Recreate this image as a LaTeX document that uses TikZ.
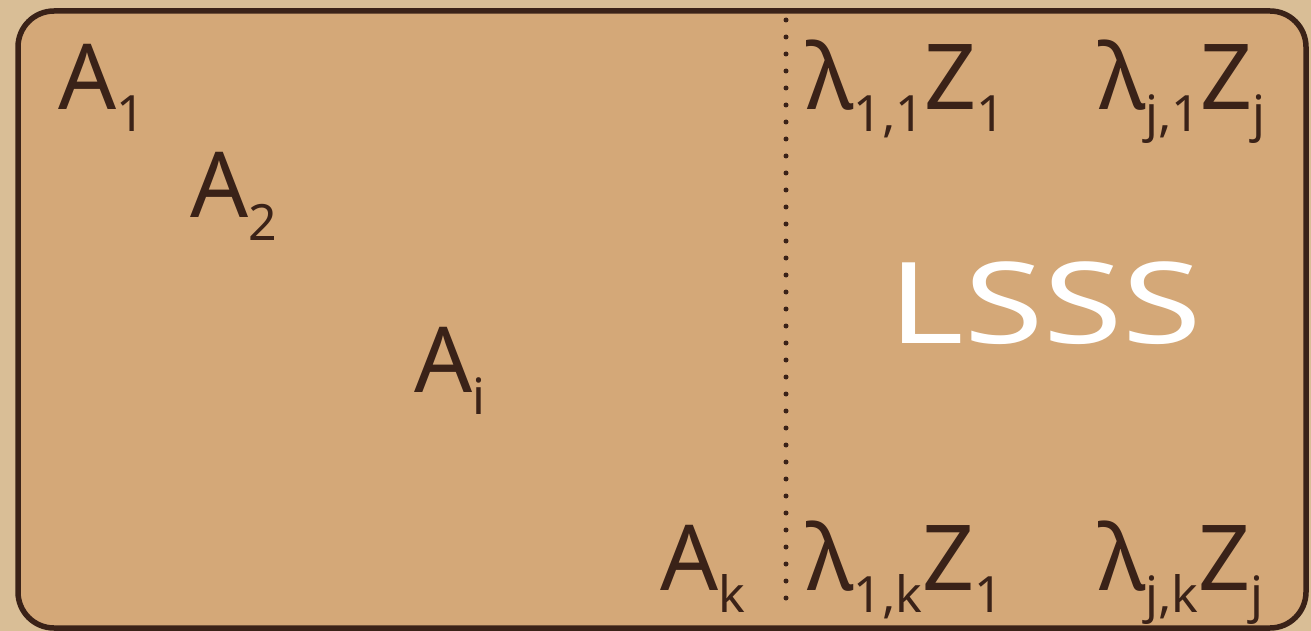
\documentclass[tikz,border=0pt]{standalone}
\usepackage{fontspec}
\setmainfont{Noto Sans}
\definecolor{paper}{HTML}{D9BE96}
\definecolor{card}{HTML}{D4A878}
\definecolor{ink}{HTML}{3A2218}
\newcommand\lowsub[1]{\raisebox{-22pt}{\fontsize{50}{50}\selectfont #1}}
\tikzset{
  lbl/.style={anchor=base west, inner sep=0pt, text=ink, font=\fontsize{91}{100}\selectfont},
  big/.style={anchor=base west, inner sep=0pt, text=white, font=\fontsize{113}{120}\selectfont},
  frame/.style={draw=ink, line width=5.5pt, fill=card, rounded corners=36pt},
  sep/.style={draw=ink, line width=5pt, line cap=round, dash pattern=on 0pt off 17pt}
}
\begin{document}
\begin{tikzpicture}[x=1pt,y=-1pt]
\useasboundingbox (0,0) rectangle (1311,631);
\fill[paper] (0,0) rectangle (1311,631);
\draw[frame] (18,11) rectangle (1306,628);
\coordinate (dtop) at (786,20);
\coordinate (dbot) at (786,604);
\draw[sep] (dtop) -- (dbot);
\node[lbl] (a1) at (58,110) {A\lowsub{1}};
\node[lbl] (a2) at (190,218) {A\lowsub{2}};
\node[lbl] (ai) at (414,392) {A\lowsub{i}};
\node[lbl] (ak) at (660,590) {A\lowsub{k}};
\node[lbl] (l11) at (806,110) {λ\lowsub{1,1}Z\lowsub{1}};
\node[lbl] (lj1) at (1098,110) {λ\lowsub{j,1}Z\lowsub{j}};
\node[lbl] (l1k) at (806,590) {λ\lowsub{1,k}Z\lowsub{1}};
\node[lbl] (ljk) at (1098,590) {λ\lowsub{j,k}Z\lowsub{j}};
\node[big, xscale=1.28] (lsss) at (888,343) {LSSS};
\end{tikzpicture}
\end{document}
